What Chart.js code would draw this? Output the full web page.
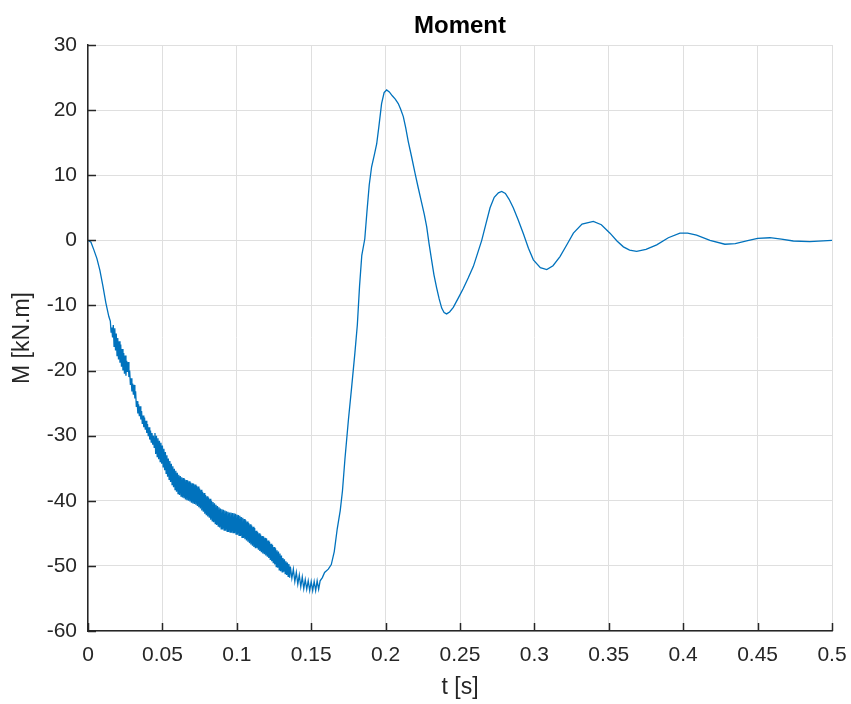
<!DOCTYPE html>
<html>
<head>
<meta charset="utf-8">
<title>Moment</title>
<script src="https://cdn.jsdelivr.net/npm/chart.js@4"></script>
<style>
  html, body { margin: 0; padding: 0; background: #fff; }
  canvas { display: block; }
</style>
</head>
<body>
<canvas id="momentChart" width="851" height="704"></canvas>
<script>
// time [s] and moment [kN.m]
const time = [
  0, 0.002, 0.004, 0.006, 0.008, 0.010, 0.012, 0.014,
  0.015, 0.0155, 0.016, 0.0165, 0.017, 0.0175, 0.018, 0.0185, 0.019, 0.0195,
  0.020, 0.0205, 0.021, 0.0215, 0.022, 0.0225, 0.023, 0.0235, 0.024, 0.0245,
  0.025, 0.0255, 0.026, 0.0265, 0.027, 0.0275, 0.028, 0.0285, 0.029, 0.0295,
  0.030, 0.0305, 0.031, 0.0315, 0.032, 0.0325, 0.033, 0.0335, 0.034, 0.0345,
  0.035, 0.0355, 0.036, 0.0365, 0.037, 0.0375, 0.038, 0.0385, 0.039, 0.0395,
  0.040, 0.0405, 0.041, 0.0415, 0.042, 0.0425, 0.043, 0.0435, 0.044, 0.0445,
  0.045, 0.0455, 0.046, 0.0465, 0.047, 0.0475, 0.048, 0.0485, 0.049, 0.0495,
  0.050, 0.0505, 0.051, 0.0515, 0.052, 0.0525, 0.053, 0.0535, 0.054, 0.0545,
  0.055, 0.0555, 0.056, 0.0565, 0.057, 0.0575, 0.058, 0.0585, 0.059, 0.0595,
  0.060, 0.0605, 0.061, 0.0615, 0.062, 0.0625, 0.063, 0.0635, 0.064, 0.0645,
  0.065, 0.0655, 0.066, 0.0665, 0.067, 0.0675, 0.068, 0.0685, 0.069, 0.0695,
  0.070, 0.0705, 0.071, 0.0715, 0.072, 0.0725, 0.073, 0.0735, 0.074, 0.0745,
  0.075, 0.0755, 0.076, 0.0765, 0.077, 0.0775, 0.078, 0.0785, 0.079, 0.0795,
  0.080, 0.0805, 0.081, 0.0815, 0.082, 0.0825, 0.083, 0.0835, 0.084, 0.0845,
  0.085, 0.0855, 0.086, 0.0865, 0.087, 0.0875, 0.088, 0.0885, 0.089, 0.0895,
  0.090, 0.0905, 0.091, 0.0915, 0.092, 0.0925, 0.093, 0.0935, 0.094, 0.0945,
  0.095, 0.0955, 0.096, 0.0965, 0.097, 0.0975, 0.098, 0.0985, 0.099, 0.0995,
  0.100, 0.1005, 0.101, 0.1015, 0.102, 0.1025, 0.103, 0.1035, 0.104, 0.1045,
  0.105, 0.1055, 0.106, 0.1065, 0.107, 0.1075, 0.108, 0.1085, 0.109, 0.1095,
  0.110, 0.1105, 0.111, 0.1115, 0.112, 0.1125, 0.113, 0.1135, 0.114, 0.1145,
  0.115, 0.1155, 0.116, 0.1165, 0.117, 0.1175, 0.118, 0.1185, 0.119, 0.1195,
  0.120, 0.1205, 0.121, 0.1215, 0.122, 0.1225, 0.123, 0.1235, 0.124, 0.1245,
  0.125, 0.1255, 0.126, 0.1265, 0.127, 0.1275, 0.128, 0.1285, 0.129, 0.1295,
  0.130, 0.1305, 0.131, 0.1315, 0.132, 0.1325, 0.133, 0.1335, 0.134, 0.1345,
  0.135, 0.1355,
  0.136, 0.137, 0.138, 0.139, 0.140, 0.141, 0.142, 0.143, 0.144, 0.145,
  0.146, 0.147, 0.148, 0.149, 0.150, 0.151, 0.152, 0.153, 0.154, 0.155, 0.156,
  0.1575, 0.159, 0.1615, 0.1635, 0.1655, 0.1675, 0.1695, 0.1710, 0.1727, 0.1750,
  0.1772, 0.1794, 0.1810, 0.1825, 0.1840, 0.1860, 0.1875, 0.1890, 0.1906, 0.1925,
  0.1940, 0.1955, 0.1973, 0.1990, 0.2007, 0.2025, 0.2045, 0.2065, 0.2085, 0.2100,
  0.2119, 0.2135, 0.2152, 0.2175, 0.2198, 0.2220, 0.2242, 0.2260, 0.2276, 0.2292,
  0.2309, 0.2325, 0.2343, 0.2360, 0.2377, 0.2393, 0.2410, 0.2430, 0.2455, 0.2490,
  0.2522, 0.2555, 0.2590, 0.2618, 0.2646, 0.2675, 0.2702, 0.2730, 0.2758, 0.2780,
  0.2805, 0.2830, 0.2858, 0.2890, 0.2926, 0.2960, 0.2993, 0.3040, 0.3083, 0.3125,
  0.3172, 0.3220, 0.3262, 0.3320, 0.3396, 0.3450, 0.3508, 0.3555, 0.3598, 0.3640,
  0.3687, 0.3750, 0.3822, 0.3900, 0.3978, 0.4030, 0.4090, 0.4180, 0.4280, 0.4350,
  0.4426, 0.4500, 0.4583, 0.4660, 0.4740, 0.4850, 0.5000
];

const moment = [
  0, -0.3, -1.5, -2.8, -4.6, -7.0, -9.6, -11.7,
  -12.4, -14.1, -13.4, -14.9, -13.0, -16.3, -13.5, -16.9, -14.3, -17.7,
  -15.0, -18.3, -15.5, -18.8, -16.0, -19.4, -16.7, -20.0, -17.3, -20.5,
  -17.7, -20.8, -18.5, -20.2, -18.7, -21.0, -20.0, -22.2, -21.2, -23.2,
  -22.0, -23.7, -22.2, -24.3, -23.2, -25.6, -24.7, -26.6, -25.2, -27.0,
  -25.5, -27.5, -26.2, -28.2, -26.9, -28.7, -27.2, -29.1, -27.7, -29.6,
  -28.2, -30.1, -28.7, -30.6, -29.2, -31.0, -29.6, -31.4, -30.0, -31.8,
  -29.6, -32.8, -30.0, -33.2, -30.4, -33.6, -30.8, -34.0, -31.1, -34.3,
  -31.5, -34.8, -32.0, -35.3, -32.5, -35.8, -33.0, -36.3, -33.5, -36.7,
  -33.9, -37.1, -34.3, -37.5, -34.7, -37.9, -35.1, -38.3, -35.4, -38.6,
  -35.7, -38.9, -36.0, -39.1, -36.2, -39.3, -36.4, -39.5, -36.5, -39.6,
  -36.7, -39.8, -36.8, -39.9, -36.9, -40.0, -37.0, -40.1, -37.2, -40.3,
  -37.3, -40.4, -37.4, -40.5, -37.5, -40.6, -37.7, -40.8, -37.8, -41.0,
  -38.1, -41.2, -38.3, -41.5, -38.6, -41.7, -38.8, -42.0, -39.1, -42.2,
  -39.3, -42.4, -39.5, -42.6, -39.7, -42.9, -40.0, -43.1, -40.2, -43.3,
  -40.4, -43.5, -40.6, -43.7, -40.8, -43.9, -41.0, -44.1, -41.2, -44.3,
  -41.3, -44.4, -41.4, -44.5, -41.5, -44.6, -41.6, -44.7, -41.7, -44.8,
  -41.8, -44.8, -41.8, -44.9, -41.9, -44.9, -41.9, -45.0, -42.0, -45.1,
  -42.1, -45.2, -42.2, -45.3, -42.3, -45.4, -42.5, -45.6, -42.6, -45.7,
  -42.8, -45.9, -43.0, -46.1, -43.2, -46.3, -43.4, -46.5, -43.6, -46.7,
  -43.8, -46.9, -44.0, -47.1, -44.2, -47.3, -44.6, -47.3, -44.8, -47.5,
  -45.0, -47.7, -45.2, -47.9, -45.4, -48.1, -45.5, -48.2, -45.7, -48.4,
  -45.8, -48.6, -46.1, -48.8, -46.3, -49.1, -46.6, -49.3, -46.8, -49.6,
  -47.1, -49.8, -47.3, -50.1, -47.6, -50.3, -47.8, -50.6, -48.1, -50.8,
  -48.4, -50.9, -48.8, -50.9, -49.0, -51.2, -49.3, -51.4, -49.5, -51.6,
  -49.7, -51.8,
  -50.1, -51.9, -50.5, -52.4, -51.0, -52.8, -51.4, -53.2, -51.7, -53.5,
  -52.1, -53.6, -52.3, -53.8, -52.4, -53.8, -52.4, -53.8, -52.3, -53.6, -52.3,
  -51.8, -51.0, -50.5, -49.8, -47.8, -44.3, -41.5, -38.5, -33.5, -27.6,
  -22.5, -17.2, -13.0, -7.0, -2.3, 0.2, 4.5, 8.5, 11.3, 13.2,
  14.8, 17.5, 21.0, 22.7, 23.1, 22.8, 22.2, 21.7, 21.0, 20.2,
  19.0, 17.3, 15.2, 12.8, 10.3, 8.0, 5.8, 4.0, 2.1, -0.5,
  -3.0, -5.3, -7.3, -9.0, -10.4, -11.1, -11.3, -11.0, -10.3, -8.8,
  -7.4, -5.8, -4.0, -2.0, 0.0, 2.6, 5.0, 6.6, 7.3, 7.5,
  7.2, 6.3, 5.0, 3.2, 1.0, -1.2, -3.0, -4.2, -4.5, -3.9,
  -2.5, -0.6, 1.1, 2.5, 2.9, 2.4, 1.1, -0.1, -1.0, -1.5,
  -1.7, -1.4, -0.7, 0.4, 1.1, 1.1, 0.8, 0.0, -0.6, -0.5,
  -0.1, 0.3, 0.4, 0.2, -0.1, -0.2, 0.0
];

const xMin = 0, xMax = 0.5, xStep = 0.05;
const yMin = -60, yMax = 30, yStep = 10;

const axisColor = "#262626";
const gridColor = "#dfdfdf";
const lineColor = "#0072BD";
const fontFamily = "'Liberation Sans', Arial, Helvetica, sans-serif";

const punti = time.map((t, i) => ({ x: t, y: moment[i] }));

// matlab style: ticks pointing inward + title over the plot area
const extras = {
  id: "extras",
  afterDraw(chart) {
    const { ctx, chartArea, scales } = chart;
    ctx.save();
    ctx.strokeStyle = axisColor;
    ctx.lineWidth = 1.5;
    scales.y.ticks.forEach(tk => {
      const y = Math.round(scales.y.getPixelForValue(tk.value)) + 0.5;
      ctx.beginPath();
      ctx.moveTo(chartArea.left, y);
      ctx.lineTo(chartArea.left + 8, y);
      ctx.stroke();
    });
    scales.x.ticks.forEach(tk => {
      const x = Math.round(scales.x.getPixelForValue(tk.value)) + 0.5;
      ctx.beginPath();
      ctx.moveTo(x, chartArea.bottom);
      ctx.lineTo(x, chartArea.bottom - 8);
      ctx.stroke();
    });
    ctx.fillStyle = "#000";
    ctx.font = "bold 24px " + fontFamily;
    ctx.textAlign = "center";
    ctx.textBaseline = "middle";
    ctx.fillText("Moment", (chartArea.left + chartArea.right) / 2, 26);
    ctx.restore();
  }
};

const ctx = document.getElementById("momentChart").getContext("2d");
const grafico = new Chart(ctx, {
  type: "scatter",
  data: {
    datasets: [{
      data: punti,
      showLine: true,
      borderColor: lineColor,
      borderWidth: 1.3,
      pointRadius: 0,
      tension: 0,
      fill: false
    }]
  },
  options: {
    responsive: false,
    animation: false,
    layout: { padding: { top: 45, right: 19, left: 0, bottom: 0 } },
    plugins: {
      legend: { display: false },
      title: { display: false },
      tooltip: { enabled: false }
    },
    scales: {
      x: {
        type: "linear",
        min: xMin,
        max: xMax,
        afterFit: s => { s.height = 73; s.paddingLeft = 0; s.paddingRight = 0; },
        ticks: {
          stepSize: xStep,
          color: axisColor,
          padding: 12,
          maxRotation: 0,
          font: { family: fontFamily, size: 21 },
          callback: v => String(+v.toFixed(2))
        },
        grid: { color: gridColor, lineWidth: 1, drawTicks: false },
        border: { display: true, color: axisColor, width: 1.5 },
        title: {
          display: true,
          text: "t [s]",
          color: axisColor,
          font: { family: fontFamily, size: 23 },
          padding: { top: 0, bottom: 3 }
        }
      },
      y: {
        type: "linear",
        min: yMin,
        max: yMax,
        afterFit: s => { s.width = 88; },
        ticks: {
          stepSize: yStep,
          color: axisColor,
          padding: 11,
          font: { family: fontFamily, size: 21 }
        },
        grid: { color: gridColor, lineWidth: 1, drawTicks: false },
        border: { display: true, color: axisColor, width: 1.5 },
        title: {
          display: true,
          text: "M [kN.m]",
          color: axisColor,
          font: { family: fontFamily, size: 23 },
          padding: { top: 9, bottom: 0 }
        }
      }
    }
  },
  plugins: [extras]
});
</script>
</body>
</html>
